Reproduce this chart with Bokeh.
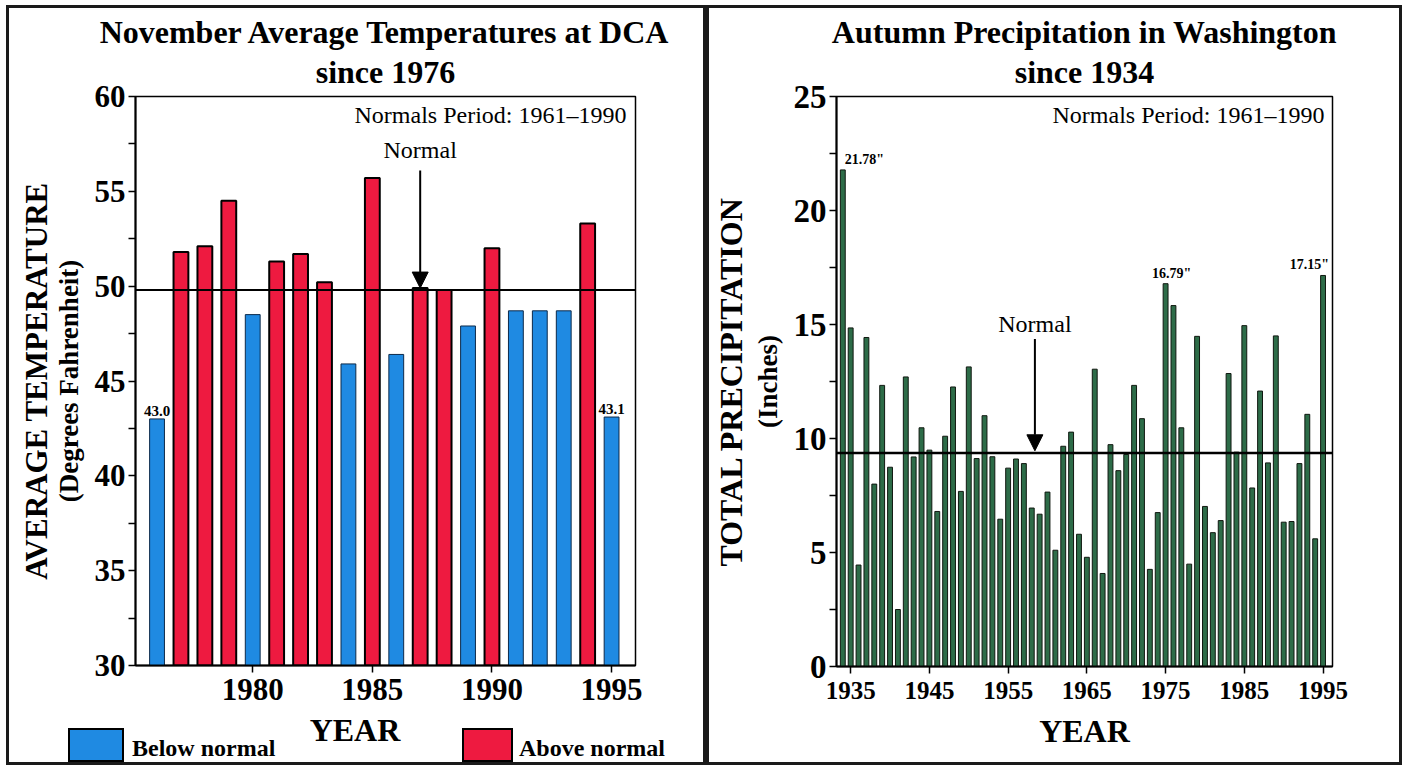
from bokeh.plotting import figure
from bokeh.models import (ColumnDataSource, FixedTicker, Span, Label, Arrow,
                          NormalHead, Title, Range1d, Div)
from bokeh.layouts import row, column
from bokeh.embed import file_html
from bokeh.resources import INLINE

# ---------------- data ----------------
temp_years = list(range(1976, 1996))
temps = [43.0, 51.8, 52.1, 54.5, 48.5, 51.3, 51.7, 50.2, 45.9, 55.7,
         46.4, 49.9, 49.8, 47.9, 52.0, 48.7, 48.7, 48.7, 53.3, 43.1]
temp_normal = 49.8
temp_ticks = [30, 35, 40, 45, 50, 55, 60]
temp_minor = [32.5, 37.5, 42.5, 47.5, 52.5, 57.5]
temp_year_ticks = [1980, 1985, 1990, 1995]
legend_labels = ["Below normal", "Above normal"]

precip_years = list(range(1934, 1996))
precip = [21.78, 14.85, 4.45, 14.43, 8.0, 12.33, 8.74, 2.5, 12.7, 9.19,
          10.47, 9.49, 6.8, 10.1, 12.26, 7.68, 13.14, 9.12, 11.0, 9.2,
          6.46, 8.7, 9.1, 8.9, 6.95, 6.68, 7.65, 5.1, 9.66, 10.28,
          5.8, 4.79, 13.04, 4.08, 9.73, 8.59, 9.3, 12.33, 10.87, 4.26,
          6.75, 16.79, 15.83, 10.47, 4.49, 14.48, 7.02, 5.87, 6.4, 12.85,
          9.4, 14.95, 7.83, 12.08, 8.93, 14.5, 6.33, 6.36, 8.9, 11.06,
          5.6, 17.15]
precip_normal = 9.36
precip_ticks = [0, 5, 10, 15, 20, 25]
precip_minor = [2.5, 7.5, 12.5, 17.5, 22.5]
precip_year_ticks = [1935, 1945, 1955, 1965, 1975, 1985, 1995]

SERIF = "Liberation Serif"
BLUE = "#1f8ae2"
RED = "#ee1a40"
GREEN = "#2d6c48"
EDGE = "#1a1a1a"


def border(widths):
    return {"border-style": "solid", "border-color": EDGE,
            "border-width": widths, "box-sizing": "border-box"}


def style_axes(p, xticks, yticks, yminor, xsize, ysize, xstand):
    p.xgrid.visible = False
    p.ygrid.visible = False
    p.outline_line_color = "black"
    p.outline_line_width = 1.5
    for ax in (p.xaxis[0], p.yaxis[0]):
        ax.axis_line_color = "black"
        ax.axis_line_width = 2
        ax.major_tick_line_color = "black"
        ax.major_tick_line_width = 1.5
        ax.minor_tick_line_color = "black"
        ax.minor_tick_line_width = 1.5
        ax.major_tick_in = 0
        ax.major_tick_out = 7
        ax.minor_tick_in = 0
        ax.major_label_text_font = SERIF
        ax.major_label_text_font_style = "bold"
        ax.major_label_text_color = "black"
        ax.axis_label_text_font = SERIF
        ax.axis_label_text_font_style = "bold"
        ax.axis_label_text_color = "black"
    p.xaxis.ticker = FixedTicker(ticks=xticks)
    p.xaxis.minor_tick_out = 0
    p.xaxis.major_label_text_font_size = xsize
    p.xaxis.major_label_standoff = xstand
    p.yaxis.ticker = FixedTicker(ticks=yticks, minor_ticks=yminor)
    p.yaxis.minor_tick_out = 7
    p.yaxis.major_label_text_font_size = ysize
    p.yaxis.major_label_standoff = 3


def add_titles(p, line1, line2):
    p.add_layout(Title(text=line2, text_font=SERIF, text_font_size="32px",
                       text_font_style="bold", text_color="black",
                       align="center", standoff=14), "above")
    p.add_layout(Title(text=line1, text_font=SERIF, text_font_size="32px",
                       text_font_style="bold", text_color="black",
                       align="center", standoff=-10), "above")


def add_side_title(p, text, size, standoff):
    p.add_layout(Title(text=text, text_font=SERIF, text_font_size=size,
                       text_font_style="bold", text_color="black",
                       align="center", standoff=standoff), "left")


# ---------------- left: temperatures ----------------
below_idx = [i for i, t in enumerate(temps) if t < temp_normal]
above_idx = [i for i, t in enumerate(temps) if t >= temp_normal]
src_below = ColumnDataSource(dict(year=[temp_years[i] for i in below_idx],
                                  temp=[temps[i] for i in below_idx]))
src_above = ColumnDataSource(dict(year=[temp_years[i] for i in above_idx],
                                  temp=[temps[i] for i in above_idx]))

p1 = figure(width=700, height=707, x_range=Range1d(1975.1, 1996.0),
            y_range=Range1d(30, 60), output_backend="svg",
            toolbar_location=None, title_location=None,
            min_border_left=126, min_border_right=74,
            min_border_top=88, min_border_bottom=50)
p1.styles = border("3px 3px 0px 3px")

p1.vbar(x="year", top="temp", bottom=30, width=0.62, source=src_below,
        fill_color=BLUE, line_color="#0d2a4a", line_width=1)
p1.vbar(x="year", top="temp", bottom=30, width=0.62, source=src_above,
        fill_color=RED, line_color="black", line_width=2)
p1.add_layout(Span(location=temp_normal, dimension="width",
                   line_color="black", line_width=2))

style_axes(p1, temp_year_ticks, temp_ticks, temp_minor, "31px", "31px", 6)
p1.yaxis.axis_label = "(Degrees Fahrenheit)"
p1.yaxis.axis_label_text_font_size = "27px"
p1.yaxis.axis_label_standoff = 8
add_side_title(p1, "AVERAGE TEMPERATURE", "31px", -7)
add_titles(p1, "November Average Temperatures at DCA", "since 1976")

for i in (0, len(temps) - 1):
    p1.add_layout(Label(x=temp_years[i], y=temps[i], text=f"{temps[i]:.1f}",
                        text_align="center", text_baseline="bottom", y_offset=3,
                        text_font=SERIF, text_font_style="bold",
                        text_color="black", text_font_size="15px"))

p1.add_layout(Label(x=1996.0, y=60, x_offset=-9, y_offset=-5,
                    text="Normals Period: 1961\u20131990", text_align="right",
                    text_baseline="top", text_font=SERIF, text_color="black",
                    text_font_size="24px"))
p1.add_layout(Label(x=1987, y=56.5, text="Normal", text_align="center",
                    text_baseline="bottom", text_font=SERIF, text_color="black",
                    text_font_size="24px"))
p1.add_layout(Arrow(end=NormalHead(size=16, fill_color="black", line_color="black"),
                    x_start=1987, y_start=56.1, x_end=1987, y_end=temp_normal + 0.1,
                    line_color="black", line_width=2))

# bottom strip of the left panel: legend swatches and the YEAR caption
font_css = f"font-family:'{SERIF}';font-weight:bold;color:black;position:absolute;white-space:nowrap;"
box_css = "position:absolute;top:16px;height:34px;border:2px solid black;box-sizing:border-box;"
strip_html = (
    '<div style="position:relative;width:694px;height:50px;">'
    f'<div style="{box_css}left:59px;width:56px;background:{BLUE};"></div>'
    f'<div style="{font_css}left:123px;top:24px;font-size:24px;line-height:24px;">{legend_labels[0]}</div>'
    f'<div style="{font_css}left:246px;top:2px;width:200px;text-align:center;font-size:32px;line-height:32px;">YEAR</div>'
    f'<div style="{box_css}left:453px;width:51px;background:{RED};"></div>'
    f'<div style="{font_css}left:510px;top:24px;font-size:24px;line-height:24px;">{legend_labels[1]}</div>'
    '</div>'
)
s1 = Div(text=strip_html, width=700, height=53, margin=0,
         styles=border("0px 3px 3px 3px"))

left_panel = column(p1, s1, spacing=0)

# ---------------- right: precipitation ----------------
src_p = ColumnDataSource(dict(year=precip_years, precip=precip))
p2 = figure(width=696, height=760, x_range=Range1d(1933.2, 1996.2),
            y_range=Range1d(0, 25), output_backend="svg",
            toolbar_location=None, title_location=None,
            min_border_left=127, min_border_right=73,
            min_border_top=88, min_border_bottom=102)
p2.styles = border("3px")
p2.vbar(x="year", top="precip", width=0.62, source=src_p,
        fill_color=GREEN, line_color="#101810", line_width=1)
p2.add_layout(Span(location=precip_normal, dimension="width",
                   line_color="black", line_width=2.5))

style_axes(p2, precip_year_ticks, precip_ticks, precip_minor, "25px", "33px", 8)
p2.xaxis.axis_label = "YEAR"
p2.xaxis.axis_label_text_font_size = "32px"
p2.xaxis.axis_label_standoff = 11
p2.yaxis.axis_label = "(Inches)"
p2.yaxis.axis_label_text_font_size = "27px"
p2.yaxis.axis_label_standoff = 8
add_side_title(p2, "TOTAL PRECIPITATION", "32px", 2)
add_titles(p2, "Autumn Precipitation in Washington", "since 1934")

i_max = 0
i_75 = precip_years.index(1975)
i_last = len(precip) - 1
for i, align, xo in ((i_max, "left", 2), (i_75, "center", 6), (i_last, "right", 6)):
    p2.add_layout(Label(x=precip_years[i], y=precip[i], x_offset=xo, y_offset=3,
                        text=f'{precip[i]:.2f}"', text_align=align,
                        text_baseline="bottom", text_font=SERIF, text_color="black",
                        text_font_style="bold", text_font_size="14px"))

p2.add_layout(Label(x=1996.2, y=25, x_offset=-8, y_offset=-5,
                    text="Normals Period: 1961\u20131990", text_align="right",
                    text_baseline="top", text_font=SERIF, text_color="black",
                    text_font_size="24px"))
p2.add_layout(Label(x=1958.4, y=14.45, text="Normal", text_align="center",
                    text_baseline="bottom", text_font=SERIF, text_color="black",
                    text_font_size="24px"))
p2.add_layout(Arrow(end=NormalHead(size=16, fill_color="black", line_color="black"),
                    x_start=1958.4, y_start=14.36, x_end=1958.4, y_end=precip_normal + 0.1,
                    line_color="black", line_width=2))

layout = row(left_panel, p2, spacing=0, margin=(5, 0, 0, 6))
open("out.html", "w").write(file_html(layout, INLINE))
